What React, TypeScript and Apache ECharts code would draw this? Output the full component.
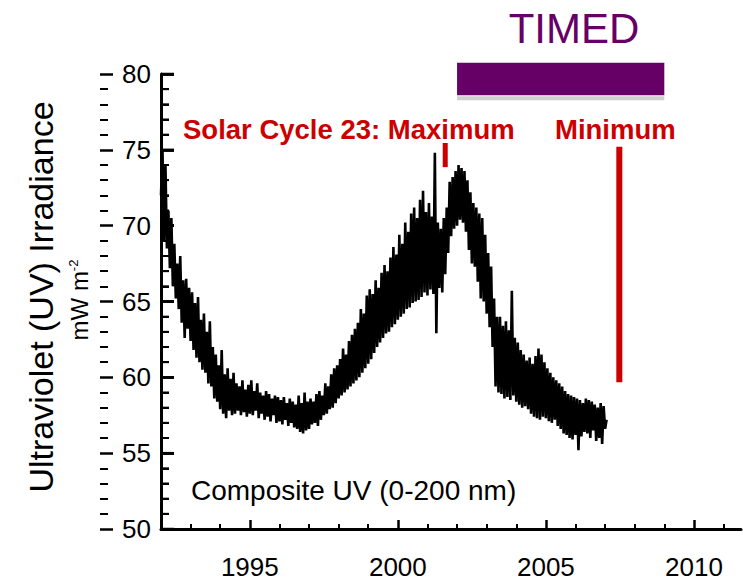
import React, { useEffect, useRef } from "react";
import * as echarts from "echarts";

// ---- Data ----
// Composite UV (0-200 nm) irradiance, mW m^-2, sampled every 0.05 yr
const START_YEAR = 1992;
const STEP_YEARS = 0.05;
const UV_1992 = [72.0, 75.0, 69.0, 74.0, 68.5, 71.0, 67.2, 70.5, 66.0, 68.8, 65.2, 67.5, 64.5, 68.0, 63.6, 66.4, 62.6, 66.5, 63.2, 65.9];
const UV_1993 = [62.4, 65.6, 61.8, 64.9, 61.3, 65.3, 61.0, 63.8, 60.5, 64.2, 60.3, 63.0, 59.6, 63.7, 59.4, 62.0, 58.6, 61.5, 58.4, 60.8];
const UV_1994 = [57.9, 61.8, 57.6, 60.2, 57.3, 60.6, 57.8, 59.9, 57.5, 60.3, 57.6, 59.6, 57.8, 59.4, 57.5, 59.8, 57.7, 59.2, 57.4, 59.5];
const UV_1995 = [57.6, 59.8, 57.5, 59.1, 57.8, 59.6, 57.3, 59.0, 57.6, 58.8, 57.2, 59.1, 57.4, 58.9, 57.1, 58.6, 57.5, 58.8, 57.0, 58.7];
const UV_1996 = [57.1, 58.5, 56.9, 58.7, 57.2, 58.3, 56.8, 58.6, 57.0, 58.4, 56.7, 58.2, 56.6, 58.8, 56.4, 58.3, 56.3, 59.0, 56.5, 58.4];
const UV_1997 = [56.6, 58.6, 56.9, 58.4, 57.0, 58.9, 56.8, 59.1, 57.2, 58.8, 57.5, 59.6, 57.6, 59.4, 57.9, 60.2, 58.0, 60.6, 58.3, 60.8];
const UV_1998 = [58.6, 61.2, 58.8, 61.9, 59.0, 61.5, 59.2, 62.4, 59.4, 62.8, 59.6, 63.2, 59.8, 63.6, 60.0, 64.5, 60.3, 64.2, 60.6, 65.4];
const UV_1999 = [60.9, 65.8, 61.2, 65.5, 61.6, 66.4, 62.0, 65.9, 62.3, 66.9, 62.6, 67.4, 62.9, 67.0, 63.0, 67.9, 63.3, 68.6, 63.5, 68.1];
const UV_2000 = [63.8, 69.4, 64.0, 68.8, 64.2, 70.2, 64.5, 69.6, 64.6, 70.8, 64.9, 71.2, 65.0, 70.5, 65.1, 71.7, 65.3, 72.3, 65.6, 70.9];
const UV_2001 = [65.4, 71.5, 65.8, 70.6, 65.5, 74.8, 62.9, 70.2, 65.9, 69.8, 65.6, 70.5, 66.8, 71.2, 68.2, 72.9, 69.3, 73.2, 69.8, 73.6];
const UV_2002 = [70.0, 74.0, 70.4, 73.8, 70.2, 73.6, 69.6, 73.0, 68.4, 72.2, 67.5, 71.5, 67.3, 71.2, 66.3, 70.8, 65.2, 70.5, 65.0, 69.4];
const UV_2003 = [64.2, 68.2, 63.3, 67.3, 62.0, 65.2, 59.4, 64.0, 59.0, 64.0, 58.9, 63.4, 58.6, 63.7, 58.7, 63.1, 58.5, 65.7, 58.8, 62.6];
const UV_2004 = [58.4, 62.3, 58.2, 61.8, 58.0, 61.5, 58.1, 61.1, 57.9, 61.3, 57.6, 60.9, 57.4, 61.4, 57.3, 61.9, 57.2, 61.5, 57.4, 61.0];
const UV_2005 = [57.3, 60.6, 57.1, 60.3, 57.0, 60.0, 57.2, 59.8, 56.8, 59.6, 56.6, 59.4, 56.3, 59.1, 56.2, 58.9, 56.0, 58.8, 55.9, 58.7];
const UV_2006 = [56.2, 58.6, 55.2, 58.5, 56.1, 58.3, 56.4, 58.6, 56.3, 58.5, 56.0, 58.4, 56.5, 58.2, 55.8, 58.0, 56.0, 58.3, 55.6, 58.1];
const UV_2007 = [56.6, 57.2];

const UV_ALL = [
  UV_1992, UV_1993, UV_1994, UV_1995, UV_1996, UV_1997, UV_1998, UV_1999,
  UV_2000, UV_2001, UV_2002, UV_2003, UV_2004, UV_2005, UV_2006, UV_2007,
];

const X_MIN = 1992;
const X_MAX = 2011.59;
const Y_MIN = 50;
const Y_MAX = 80;
const X_LABELS = [1995, 2000, 2005, 2010];
const X_MINOR = [1993, 1994, 1996, 1997, 1998, 1999, 2001, 2002, 2003, 2004, 2006, 2007, 2008, 2009, 2011];
const Y_MAJOR = [50, 55, 60, 65, 70, 75, 80];
const Y_MINOR = [51, 52, 53, 54, 56, 57, 58, 59, 61, 62, 63, 64, 66, 67, 68, 69, 71, 72, 73, 74, 76, 77, 78, 79];

// Annotations (in data units)
const TIMED_SPAN = [2002.0, 2009.0];
const TIMED_BAR_Y = [78.6, 80.75];
const SOLAR_MAX_YEAR = 2001.6;
const SOLAR_MAX_Y = [73.86, 75.45];
const SOLAR_MIN_YEAR = 2007.48;
const SOLAR_MIN_Y = [59.67, 75.2];

const FONT = "'Liberation Sans', Arial, Helvetica, sans-serif";
const RED = "#cc0000";
const PURPLE = "#660066";

const GRID = { left: 161, top: 74, width: 580, height: 455 };
// helper grid whose right edge sits on the left spine, so its right-hand
// y axis draws outward ticks pointing into the main plot
const TICK_GRID = { left: 100, top: 74, width: 61, height: 455 };

export default function App() {
  const ref = useRef<HTMLDivElement>(null);

  useEffect(() => {
    if (!ref.current) return;
    const chart = echarts.init(ref.current, null, { renderer: "svg" });

    const seriesData: number[][] = [];
    UV_ALL.forEach((arr, yi) => {
      arr.forEach((v, i) => {
        seriesData.push([START_YEAR + yi + i * STEP_YEARS, v]);
      });
    });

    const pxPerYear = GRID.width / (X_MAX - X_MIN);
    const pxPerUnit = GRID.height / (Y_MAX - Y_MIN);
    const seg = (a: number[], b: number[], w: number) => [
      { coord: a, lineStyle: { color: "#000", width: w, type: "solid" } },
      { coord: b },
    ];
    const tickLines = [
      ...Y_MAJOR.map((v) => seg([X_MIN, v], [X_MIN + 13 / pxPerYear, v], 2.5)),
      ...Y_MINOR.map((v) => seg([X_MIN, v], [X_MIN + 8 / pxPerYear, v], 2)),
      ...X_MINOR.map((x) => seg([x, Y_MIN], [x, Y_MIN + 5 / pxPerUnit], 2)),
    ];

    chart.setOption({
      animation: false,
      grid: [GRID, TICK_GRID],
      xAxis: [
        {
          type: "value",
          gridIndex: 0,
          min: X_MIN,
          max: X_MAX,
          splitLine: { show: false },
          axisLine: { show: true, lineStyle: { color: "#000", width: 3 } },
          axisTick: {
            show: true,
            inside: true,
            length: 9,
            customValues: X_LABELS,
            lineStyle: { color: "#000", width: 2.5 },
          },
          axisLabel: {
            show: true,
            customValues: X_LABELS,
            formatter: (v: number) => String(Math.round(v)),
            fontSize: 26,
            fontFamily: FONT,
            color: "#000",
            margin: 25,
          },
        },
        {
          type: "value",
          gridIndex: 1,
          min: 0,
          max: 1,
          show: false,
        },
      ],
      yAxis: [
        {
          type: "value",
          gridIndex: 0,
          min: Y_MIN,
          max: Y_MAX,
          interval: 5,
          splitLine: { show: false },
          axisLine: { show: true, lineStyle: { color: "#000", width: 3 } },
          axisTick: { show: true, inside: true, length: 13, lineStyle: { color: "#000", width: 2.5 } },
          minorTick: { show: false },
          axisLabel: { fontSize: 26, fontFamily: FONT, color: "#000", margin: 10 },
        },
        {
          type: "value",
          gridIndex: 1,
          position: "right",
          min: Y_MIN,
          max: Y_MAX,
          interval: 5,
          splitLine: { show: false },
          minorSplitLine: { show: false },
          axisLine: { show: false },
          axisTick: { show: true, inside: false, length: 13, lineStyle: { color: "#000", width: 2.5 } },
          minorTick: { show: true, splitNumber: 5, length: 8, lineStyle: { color: "#000", width: 2 } },
          axisLabel: { show: false },
        },
      ],
      series: [
        {
          type: "line",
          xAxisIndex: 0,
          yAxisIndex: 0,
          data: seriesData,
          showSymbol: false,
          symbol: "none",
          clip: false,
          lineStyle: { color: "#000", width: 2.6 },
          markLine: {
            silent: true,
            symbol: ["none", "none"],
            label: { show: false },
            emphasis: { disabled: true },
            lineStyle: { color: "#000", width: 2, type: "solid" },
            data: tickLines,
          },
        },
      ],
    });

    const px = (x: number, y: number) =>
      chart.convertToPixel({ xAxisIndex: 0, yAxisIndex: 0 }, [x, y]) as number[];

    const [b0x, b0y] = px(TIMED_SPAN[0], TIMED_BAR_Y[1]);
    const [b1x, b1y] = px(TIMED_SPAN[1], TIMED_BAR_Y[0]);
    const [mx, my0] = px(SOLAR_MAX_YEAR, SOLAR_MAX_Y[1]);
    const [, my1] = px(SOLAR_MAX_YEAR, SOLAR_MAX_Y[0]);
    const [nx, ny0] = px(SOLAR_MIN_YEAR, SOLAR_MIN_Y[1]);
    const [, ny1] = px(SOLAR_MIN_YEAR, SOLAR_MIN_Y[0]);

    const spineX = px(X_MIN, Y_MIN)[0];
    const yTick = (v: number, len: number, w: number) => {
      const y = px(X_MIN, v)[1];
      return {
        type: "line",
        z: 100,
        shape: { x1: spineX, y1: y, x2: spineX + len, y2: y },
        style: { stroke: "#000", lineWidth: w },
      };
    };

    const txt = (text: string, x: number, y: number, extra: any = {}) => ({
      type: "text",
      x,
      y,
      style: {
        text,
        fontFamily: FONT,
        textAlign: "left",
        textVerticalAlign: "middle",
        align: "left",
        verticalAlign: "middle",
        ...extra,
      },
    });

    chart.setOption({
      graphic: [
        ...Y_MAJOR.map((v) => yTick(v, 13, 2.5)),
        ...Y_MINOR.map((v) => yTick(v, 8, 2)),
        {
          type: "rect",
          shape: { x: b0x, y: b0y, width: b1x - b0x, height: b1y - b0y },
          style: { fill: PURPLE },
        },
        {
          type: "rect",
          shape: { x: b0x, y: b1y + 1, width: b1x - b0x, height: 4 },
          style: { fill: "#cfcfcf" },
        },
        txt("TIMED", 574, 28, { fontSize: 42, fill: PURPLE, textAlign: "center", align: "center" }),
        {
          type: "line",
          shape: { x1: mx, y1: my0, x2: mx, y2: my1 },
          style: { stroke: RED, lineWidth: 5 },
        },
        {
          type: "line",
          shape: { x1: nx, y1: ny0, x2: nx, y2: ny1 },
          style: { stroke: RED, lineWidth: 6 },
        },
        txt("Solar Cycle 23: Maximum", 183, 129, { fontSize: 27.5, fontWeight: "bold", fill: RED }),
        txt("Minimum", 555, 129, { fontSize: 27.5, fontWeight: "bold", fill: RED }),
        txt("Composite UV (0-200 nm)", 191, 490, { fontSize: 28, fill: "#000" }),
        {
          type: "text",
          x: 41,
          y: 297,
          rotation: Math.PI / 2,
          style: {
            text: "Ultraviolet (UV) Irradiance",
            fontFamily: FONT,
            fontSize: 34,
            fill: "#000",
            textAlign: "center",
            textVerticalAlign: "middle",
            align: "center",
            verticalAlign: "middle",
          },
        },
        {
          type: "text",
          x: 79,
          y: 300,
          rotation: Math.PI / 2,
          style: {
            text: "{a|mW m}{b|-2}",
            fontFamily: FONT,
            fill: "#000",
            textAlign: "center",
            textVerticalAlign: "middle",
            align: "center",
            verticalAlign: "middle",
            rich: {
              a: { fontSize: 24, fontFamily: FONT, fill: "#000" },
              b: { fontSize: 13, fontFamily: FONT, fill: "#000", verticalAlign: "top" },
            },
          },
        },
      ],
    });

    return () => chart.dispose();
  }, []);

  return (
    <div
      ref={ref}
      style={{ position: "fixed", left: 0, top: 0, width: 743, height: 581, background: "#fff" }}
    />
  );
}
